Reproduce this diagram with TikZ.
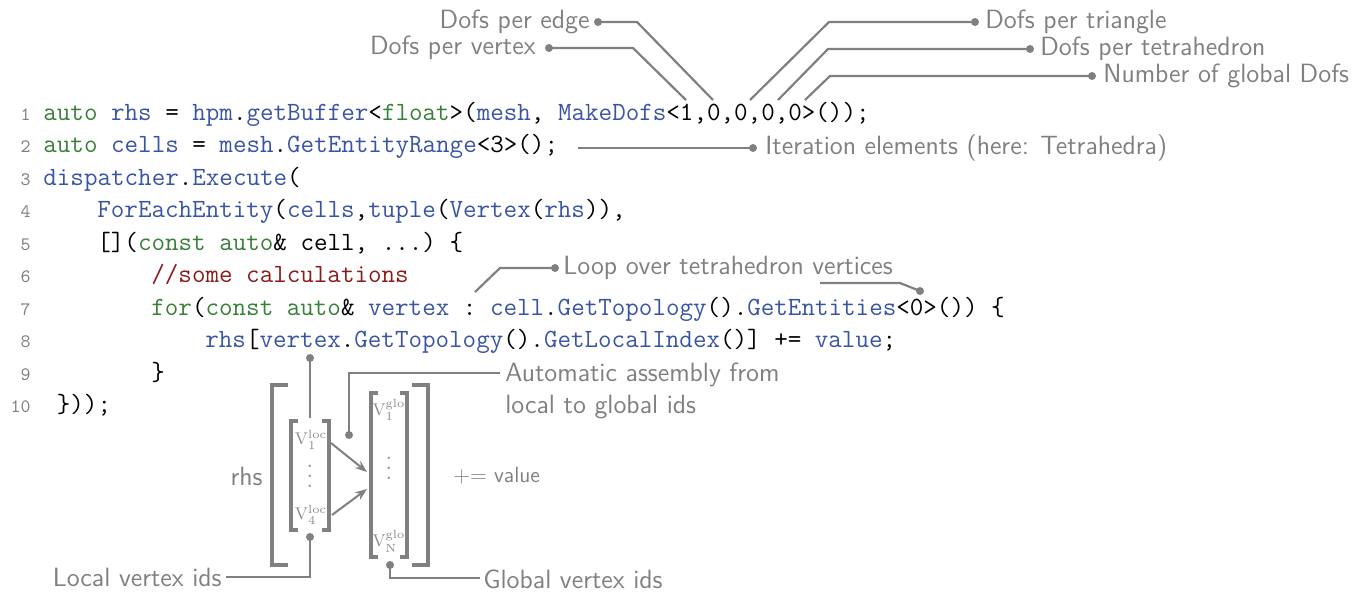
\documentclass[tikz,border=0pt]{standalone}
\usepackage{fontspec}
\usetikzlibrary{arrows.meta}
\definecolor{codegreen}{RGB}{56,128,56}
\definecolor{codeblue}{RGB}{58,84,164}
\definecolor{codered}{RGB}{138,28,28}
\definecolor{notegray}{RGB}{128,128,128}
\definecolor{vecgray}{RGB}{140,140,140}
\newcommand{\kw}[1]{\textcolor{codegreen}{#1}}
\newcommand{\idf}[1]{\textcolor{codeblue}{#1}}
\newcommand{\cmt}[1]{\textcolor{codered}{#1}}
\newcommand{\vdts}{\vbox{\baselineskip5pt\lineskiplimit0pt\hbox{.}\hbox{.}\hbox{.}}}
\tikzset{
  codeln/.style={anchor=base west, inner sep=0pt, font=\fontsize{13.15}{16}\ttfamily\frenchspacing},
  lnum/.style={anchor=base east, inner sep=0pt, text=notegray, font=\fontsize{9.5}{12}\ttfamily},
  lbl/.style={inner sep=0pt, text=notegray, font=\fontsize{13.2}{16}\sffamily},
  leader/.style={draw=notegray, line width=1.1pt},
  dot/.style={circle, fill=notegray, inner sep=0pt, minimum size=4pt},
  brk/.style={draw=notegray, line width=1.6pt},
  arr/.style={draw=notegray, line width=1pt, -{Stealth[length=6pt]}},
  vec/.style={inner sep=0pt, text=vecgray, font=\fontsize{8.5}{10}\selectfont},
}
\begin{document}
\begin{tikzpicture}[x=0.5pt, y=-0.5pt]
\useasboundingbox (0,0) rectangle (1367,594);
\node[lnum] (n1) at (31,120){1};
\node[lnum] (n2) at (31,152.5){2};
\node[lnum] (n3) at (31,185){3};
\node[lnum] (n4) at (31,217.5){4};
\node[lnum] (n5) at (31,250){5};
\node[lnum] (n6) at (31,282.5){6};
\node[lnum] (n7) at (31,315){7};
\node[lnum] (n8) at (31,347.5){8};
\node[lnum] (n9) at (31,380){9};
\node[lnum] (n10) at (31,412.5){10};
\node[codeln] (c1) at (43,120){\kw{auto} \idf{rhs} = \idf{hpm}.\idf{getBuffer}<\kw{float}>(\idf{mesh}, \idf{MakeDofs}<1,0,0,0,0>());};
\node[codeln] (c2) at (43,152.5){\kw{auto} \idf{cells} = \idf{mesh}.\idf{GetEntityRange}<3>();};
\node[codeln] (c3) at (43,185){\idf{dispatcher}.\idf{Execute}(};
\node[codeln] (c4) at (97,217.5){\idf{ForEachEntity}(\idf{cells},\idf{tuple}(\idf{Vertex}(\idf{rhs})),};
\node[codeln] (c5) at (97,250){[](\kw{const} \kw{auto}\& cell, ...) \{};
\node[codeln] (c6) at (151,282.5){\cmt{//some calculations}};
\node[codeln] (c7) at (151,315){\kw{for}(\kw{const} \kw{auto}\& \idf{vertex} : \idf{cell}.\idf{GetTopology}().\idf{GetEntities}<0>()) \{};
\node[codeln] (c8) at (205,347.5){\idf{rhs}[\idf{vertex}.\idf{GetTopology}().\idf{GetLocalIndex}()] += \idf{value};};
\node[codeln] (c9) at (151,380){\}};
\node[codeln] (c10) at (56.5,412.5){\}));};

\node[lbl, anchor=east] (edgelbl) at (590,22){Dofs per edge};
\node[dot] (edgedot) at (598,22){};
\coordinate (edgebend) at (637,22);
\coordinate (edgeend) at (713,100);
\draw[leader](edgedot.center) -- (edgebend) -- (edgeend);
\node[lbl, anchor=east] (vertlbl) at (536,48){Dofs per vertex};
\node[dot] (vertdot) at (549,48){};
\coordinate (vertbend) at (633,48);
\coordinate (vertend) at (686,100);
\draw[leader](vertdot.center) -- (vertbend) -- (vertend);
\node[lbl, anchor=west] (trilbl) at (985,22){Dofs per triangle};
\node[dot] (tridot) at (975,22){};
\coordinate (tribend) at (829,22);
\coordinate (triend) at (750,100);
\draw[leader](tridot.center) -- (tribend) -- (triend);
\node[lbl, anchor=west] (tetlbl) at (1040,49){Dofs per tetrahedron};
\node[dot] (tetdot) at (1030,49){};
\coordinate (tetbend) at (828,49);
\coordinate (tetend) at (778,100);
\draw[leader](tetdot.center) -- (tetbend) -- (tetend);
\node[lbl, anchor=west] (numlbl) at (1103,76){Number of global Dofs};
\node[dot] (numdot) at (1092,76){};
\coordinate (numbend) at (830,76);
\coordinate (numend) at (805,100);
\draw[leader](numdot.center) -- (numbend) -- (numend);
\node[lbl, anchor=west] (iterlbl) at (765,148){Iteration elements (here: Tetrahedra)};
\node[dot] (iterdot) at (753,148){};
\coordinate (iterstart) at (578,148);
\draw[leader](iterstart) -- (iterdot.center);
\node[lbl, anchor=west] (looplbl) at (563,268){Loop over tetrahedron vertices};
\node[dot] (loopdot) at (555,268){};
\coordinate (loopbend) at (500,268);
\coordinate (loopend) at (475,292);
\draw[leader](loopdot.center) -- (loopbend) -- (loopend);
\coordinate (entstart) at (820,283);
\coordinate (entbend) at (900,283);
\node[dot] (entdot) at (920,291){};
\draw[leader](entstart) -- (entbend) -- (entdot.center);

\draw[brk](288,385) -- (272,385) -- (272,565) -- (288,565);
\draw[brk](412,385) -- (428,385) -- (428,565) -- (412,565);
\draw[brk](298,421) -- (291,421) -- (291,530) -- (298,530);
\draw[brk](322,421) -- (329,421) -- (329,530) -- (322,530);
\draw[brk](378,393) -- (371,393) -- (371,557) -- (378,557);
\draw[brk](400,393) -- (407,393) -- (407,557) -- (400,557);
\node[vec] (v1loc) at (311,440){$\mathrm{V}^{\mathrm{loc}}_{1}$};
\node[vec, font=\fontsize{12}{14}\selectfont] (ldots) at (310,476){\vdts};
\node[vec] (v4loc) at (311,515){$\mathrm{V}^{\mathrm{loc}}_{4}$};
\node[vec] (v1glo) at (389,410){$\mathrm{V}^{\mathrm{glo}}_{1}$};
\node[vec, font=\fontsize{12}{14}\selectfont] (gdots) at (389,468){\vdts};
\node[vec] (vnglo) at (389,541){$\mathrm{V}^{\mathrm{glo}}_{\mathrm{N}}$};
\coordinate (a1s) at (331,443);
\coordinate (a1e) at (367,472);
\coordinate (a2s) at (332,515);
\coordinate (a2e) at (367,489);
\draw[arr](a1s) -- (a1e);
\draw[arr](a2s) -- (a2e);
\node[lbl, anchor=east] (rhslbl) at (263,476){rhs};
\node[lbl, anchor=west, font=\fontsize{11}{13}\sffamily] (pluslbl) at (453,476){+= value};

\node[dot] (vtxdot) at (310,358){};
\coordinate (vtxend) at (310,418);
\draw[leader](vtxdot.center) -- (vtxend);
\node[lbl, anchor=west, align=left] (autolbl) at (505,391){Automatic assembly from\\local to global ids};
\coordinate (autostart) at (500,373);
\node[dot] (autodot) at (349,435){};
\draw[leader](autostart) -| (autodot.center);
\node[lbl, anchor=east] (locallbl) at (222,577){Local vertex ids};
\coordinate (localstart) at (226,577);
\node[dot] (localdot) at (310,537){};
\draw[leader](localstart) -| (localdot.center);
\node[lbl, anchor=west] (globallbl) at (483,579){Global vertex ids};
\coordinate (globalstart) at (480,578);
\node[dot] (globaldot) at (390,565){};
\draw[leader](globalstart) -| (globaldot.center);
\end{tikzpicture}
\end{document}
